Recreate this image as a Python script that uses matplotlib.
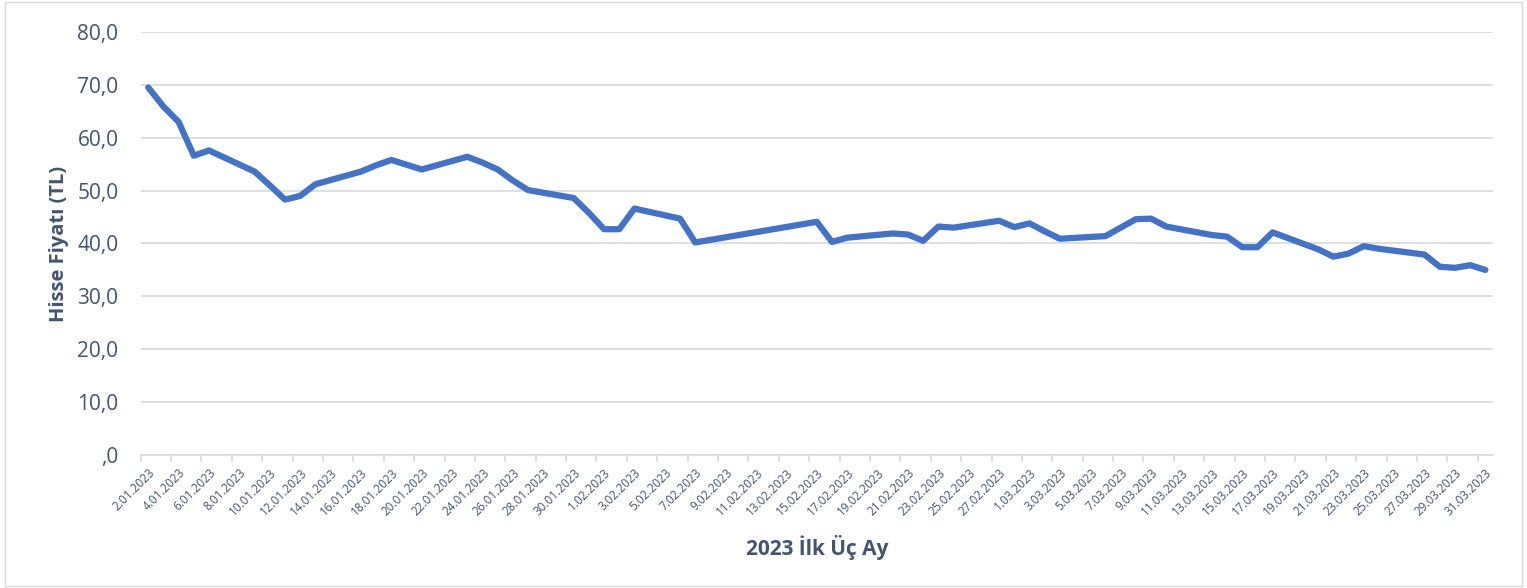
import datetime as dt

import matplotlib
matplotlib.use('Agg')
import matplotlib.pyplot as plt
from matplotlib.patches import Rectangle

# İşlem günleri (8-14 Şubat borsa kapalı)
tarihler = [
    '2023-01-02', '2023-01-03', '2023-01-04', '2023-01-05', '2023-01-06',
    '2023-01-09', '2023-01-10', '2023-01-11', '2023-01-12', '2023-01-13',
    '2023-01-16', '2023-01-17', '2023-01-18', '2023-01-19', '2023-01-20',
    '2023-01-23', '2023-01-24', '2023-01-25', '2023-01-26', '2023-01-27',
    '2023-01-30', '2023-01-31', '2023-02-01', '2023-02-02', '2023-02-03',
    '2023-02-06', '2023-02-07', '2023-02-15', '2023-02-16', '2023-02-17',
    '2023-02-20', '2023-02-21', '2023-02-22', '2023-02-23', '2023-02-24',
    '2023-02-27', '2023-02-28', '2023-03-01', '2023-03-02', '2023-03-03',
    '2023-03-06', '2023-03-07', '2023-03-08', '2023-03-09', '2023-03-10',
    '2023-03-13', '2023-03-14', '2023-03-15', '2023-03-16', '2023-03-17',
    '2023-03-20', '2023-03-21', '2023-03-22', '2023-03-23', '2023-03-24',
    '2023-03-27', '2023-03-28', '2023-03-29', '2023-03-30', '2023-03-31',
]
fiyatlar = [
    69.5, 65.9, 63.0, 56.6, 57.6,
    53.6, 51.0, 48.3, 49.0, 51.2,
    53.6, 54.8, 55.8, 54.9, 54.0,
    56.4, 55.3, 54.0, 51.9, 50.1,
    48.6, 45.8, 42.7, 42.7, 46.6,
    44.7, 40.2, 44.1, 40.3, 41.1,
    41.9, 41.7, 40.5, 43.2, 43.0,
    44.3, 43.1, 43.8, 42.3, 40.9,
    41.4, 43.0, 44.6, 44.7, 43.2,
    41.6, 41.3, 39.3, 39.3, 42.1,
    38.9, 37.5, 38.1, 39.5, 39.0,
    37.9, 35.6, 35.4, 35.9, 35.0,
]

x = [dt.datetime.strptime(t, '%Y-%m-%d') for t in tarihler]

metin_rengi = '#44546A'
plt.rcParams['font.family'] = ['Open Sans', 'DejaVu Sans']

fig = plt.figure(figsize=(15.27, 5.88), dpi=100)
ax = fig.add_axes([0.0921, 0.2262, 0.8856, 0.7194])

ax.plot(x, fiyatlar, color='#4472C4', linewidth=4.5, solid_joinstyle='round',
        solid_capstyle='round', zorder=3)

# eksen aralıkları
yarim_gun = dt.timedelta(hours=12)
ax.set_xlim(x[0] - yarim_gun, x[-1] + yarim_gun)
ax.set_ylim(0, 80)

# y ekseni
ax.set_yticks(range(0, 81, 10))
ax.set_yticklabels([f'{v},0' if v else ',0' for v in range(0, 81, 10)])
ax.yaxis.grid(True, color='#D9D9D9', linewidth=1.2)
ax.set_axisbelow(True)
ax.tick_params(axis='y', length=0, pad=16, labelsize=15, labelcolor=metin_rengi)

# x ekseni: her iki günde bir etiket
etiket_gunleri = [x[0] + dt.timedelta(days=2 * i) for i in range(45)]
ax.set_xticks(etiket_gunleri)
ax.set_xticklabels([f'{d.day}.{d.month:02d}.{d.year}' for d in etiket_gunleri],
                   rotation=45, ha='right', va='top', rotation_mode='anchor')
ax.tick_params(axis='x', which='major', length=0, pad=8, labelsize=8.5,
               labelcolor=metin_rengi)
ax.set_xticks([d - yarim_gun for d in etiket_gunleri], minor=True)
ax.tick_params(axis='x', which='minor', length=5, width=1.2, color='#D9D9D9')

for kenar in ['top', 'right', 'left']:
    ax.spines[kenar].set_visible(False)
ax.spines['bottom'].set_color('#D9D9D9')
ax.spines['bottom'].set_linewidth(1.2)

ax.set_ylabel('Hisse Fiyatı (TL)', fontsize=14.5, fontweight='bold',
              color=metin_rengi, labelpad=6)
ax.set_xlabel('2023 İlk Üç Ay', fontsize=15, fontweight='bold',
              color=metin_rengi, labelpad=12)

# grafik alanı çerçevesi
fig.patches.append(Rectangle((0.003, 0.004), 0.994, 0.992, transform=fig.transFigure,
                             fill=False, edgecolor='#D9D9D9', linewidth=1))

fig.savefig('out.png', dpi=100)
